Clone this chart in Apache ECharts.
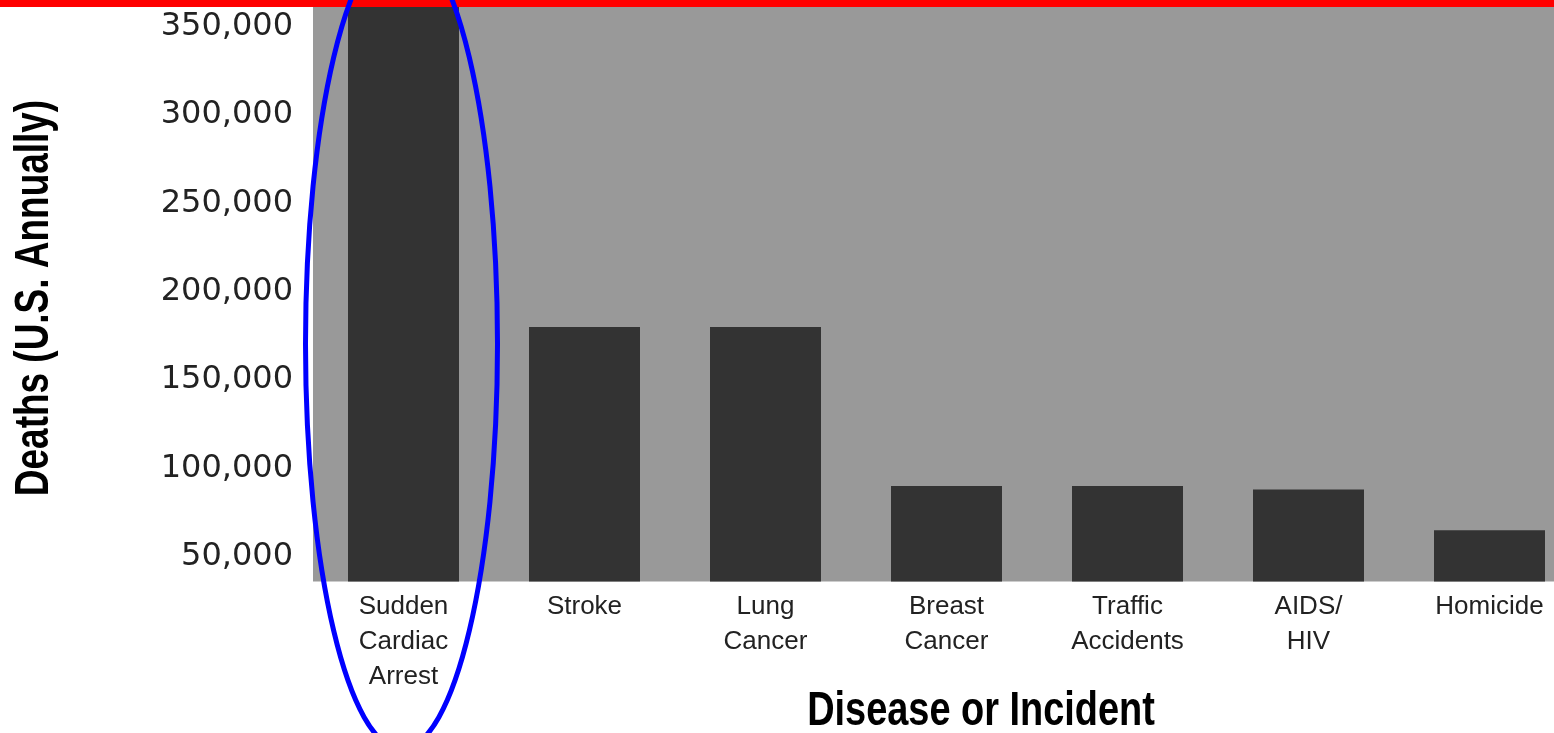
<!DOCTYPE html>
<html>
<head>
<meta charset="utf-8">
<title>Deaths by Disease or Incident</title>
<script src="https://cdn.jsdelivr.net/npm/echarts@6/dist/echarts.min.js"></script>
<style>
  html, body { margin: 0; padding: 0; background: #ffffff; }
  #chart { width: 1554px; height: 733px; }
</style>
</head>
<body>
<div id="chart"></div>
<script>
// Annual U.S. deaths by cause
const categories = [
  'Sudden\nCardiac\nArrest',
  'Stroke',
  'Lung\nCancer',
  'Breast\nCancer',
  'Traffic\nAccidents',
  'AIDS/\nHIV',
  'Homicide'
];
const deaths = [400000, 180000, 180000, 90000, 90000, 88000, 65000];
const yTickValues = [50000, 100000, 150000, 200000, 250000, 300000, 350000];
const xTitle = 'Disease or Incident';
const yTitle = 'Deaths (U.S. Annually)';

const chart = echarts.init(document.getElementById('chart'), null, { renderer: 'canvas' });

// Heavy condensed look for the axis titles: bold sans squeezed horizontally
const titleStyle = {
  fill: '#000000',
  font: 'bold 48px "Liberation Sans", Arial, sans-serif',
  align: 'center',
  verticalAlign: 'middle'
};

const option = {
  backgroundColor: '#ffffff',
  animation: false,
  grid: {
    left: 313,
    top: 7,
    width: 1267,
    height: 574.5,
    outerBoundsMode: 'none',
    containLabel: false,
    show: true,
    backgroundColor: '#999999',
    borderWidth: 0
  },
  xAxis: {
    type: 'category',
    data: categories,
    axisLine: { show: false },
    axisTick: { show: false },
    splitLine: { show: false },
    axisLabel: {
      interval: 0,
      margin: 8,
      color: '#222222',
      fontFamily: 'Liberation Sans',
      fontSize: 26,
      lineHeight: 35
    }
  },
  yAxis: {
    type: 'value',
    min: 36000,
    max: 361000,
    axisLine: { show: false },
    axisTick: { show: false },
    splitLine: { show: false },
    axisLabel: {
      customValues: yTickValues,
      margin: 20,
      padding: [6, 0, 0, 0],
      color: '#222222',
      fontFamily: 'DejaVu Sans',
      fontSize: 32,
      formatter: function (v) { return v.toLocaleString('en-US'); }
    }
  },
  series: [{
    type: 'bar',
    data: deaths,
    barWidth: 111,
    clip: true,
    itemStyle: { color: '#333333' }
  }]
};

chart.setOption(option);

// Axis titles, red rule across the top, and the ring around the first bar
const ringX = chart.convertToPixel({ xAxisIndex: 0 }, categories[0]);
chart.setOption({
  graphic: [
    {
      type: 'text',
      x: 981,
      y: 712,
      scaleX: 0.79,
      style: Object.assign({ text: xTitle }, titleStyle)
    },
    {
      type: 'text',
      x: 35,
      y: 298,
      rotation: Math.PI / 2,
      scaleX: 0.77,
      style: Object.assign({ text: yTitle }, titleStyle)
    },
    {
      type: 'rect',
      z: 100,
      shape: { x: 0, y: 0, width: 1554, height: 7 },
      style: { fill: '#ff0000' }
    },
    {
      type: 'ellipse',
      z: 101,
      shape: { cx: ringX - 2, cy: 344, rx: 96, ry: 405 },
      style: { fill: 'none', stroke: '#0000ff', lineWidth: 5 }
    }
  ]
});
</script>
</body>
</html>
